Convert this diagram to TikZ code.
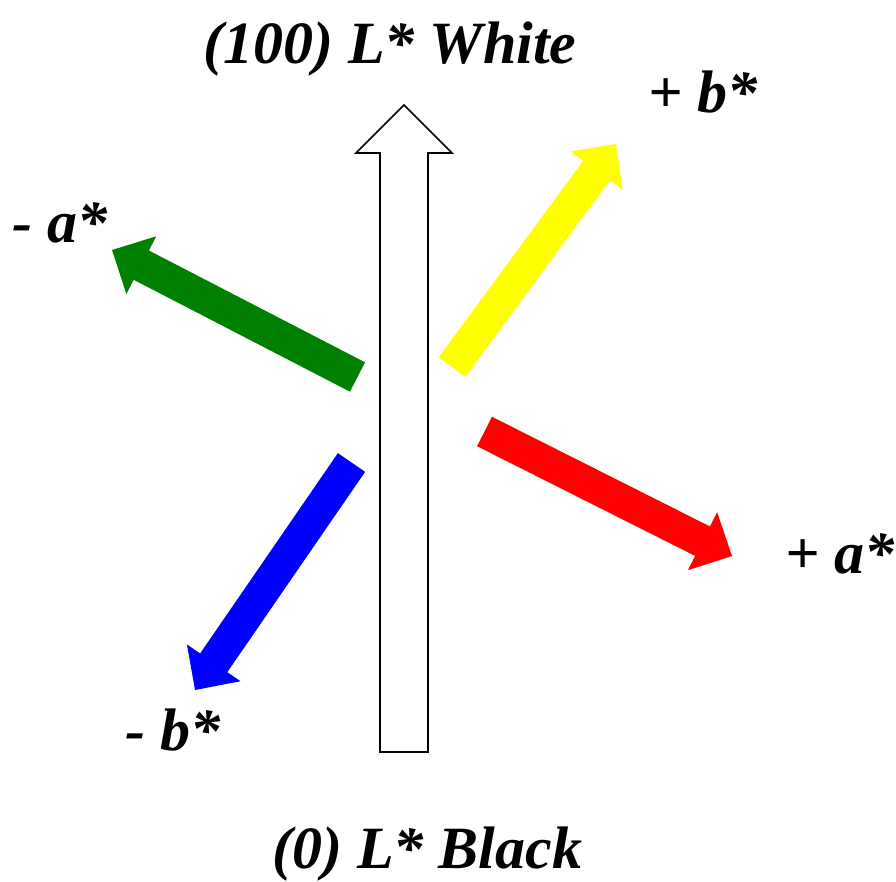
\documentclass[tikz,border=0pt]{standalone}
\usepackage{fontspec}
\setmainfont{Liberation Serif}
\usetikzlibrary{calc}
\definecolor{lgreen}{HTML}{008000}
\definecolor{lyellow}{HTML}{FFFF00}
\definecolor{lred}{HTML}{FF0000}
\definecolor{lblue}{HTML}{0000FF}
\tikzset{
  lab/.style={anchor=base west, inner sep=0pt, font=\fontsize{60}{72}\selectfont\bfseries\itshape},
}
% fat arrow: #1 tail, #2 tip, #3 half shaft, #4 half head, #5 head length, #6 style
\newcommand{\fatarrow}[6]{%
  \path[#6] ($(#1)!#3!90:(#2)$)
    -- ($($(#2)!#5!(#1)$)!#3!-90:(#1)$)
    -- ($($(#2)!#5!(#1)$)!#4!-90:(#1)$)
    -- (#2)
    -- ($($(#2)!#5!(#1)$)!#4!90:(#1)$)
    -- ($($(#2)!#5!(#1)$)!#3!90:(#1)$)
    -- ($(#1)!#3!-90:(#2)$) -- cycle;}
\begin{document}
\begin{tikzpicture}[x=1pt,y=-1pt]
\useasboundingbox (0,0) rectangle (896,881);
\fill[white] (0,0) rectangle (896,881);
% coordinates
\coordinate (Lt) at (404,752);
\coordinate (Lh) at (404,105);
\coordinate (Yt) at (452,367);
\coordinate (Yh) at (616,144);
\coordinate (Gt) at (357.5,377);
\coordinate (Gh) at (112,250);
\coordinate (Rt) at (484.5,431.5);
\coordinate (Rh) at (732,556);
\coordinate (Bt) at (351.5,462.5);
\coordinate (Bh) at (195,690);
% arrows
\fatarrow{Lt}{Lh}{24pt}{48pt}{48pt}{draw=black, fill=white, line width=1.6pt, line join=miter}
\fatarrow{Yt}{Yh}{16.5pt}{32.5pt}{33pt}{fill=lyellow}
\fatarrow{Gt}{Gh}{16.5pt}{32.5pt}{33pt}{fill=lgreen}
\fatarrow{Rt}{Rh}{16.5pt}{32.5pt}{33pt}{fill=lred}
\fatarrow{Bt}{Bh}{16.5pt}{32.5pt}{33pt}{fill=lblue}
% labels
\node[lab] (white) at (203,63) {(100) L* White};
\node[lab] (black) at (272,868) {(0) L* Black};
\node[lab] (pb) at (648,112) {+ b*};
\node[lab] (ma) at (12,242) {- a*};
\node[lab] (pa) at (785,573) {+ a*};
\node[lab] (mb) at (125,750) {- b*};
\end{tikzpicture}
\end{document}
